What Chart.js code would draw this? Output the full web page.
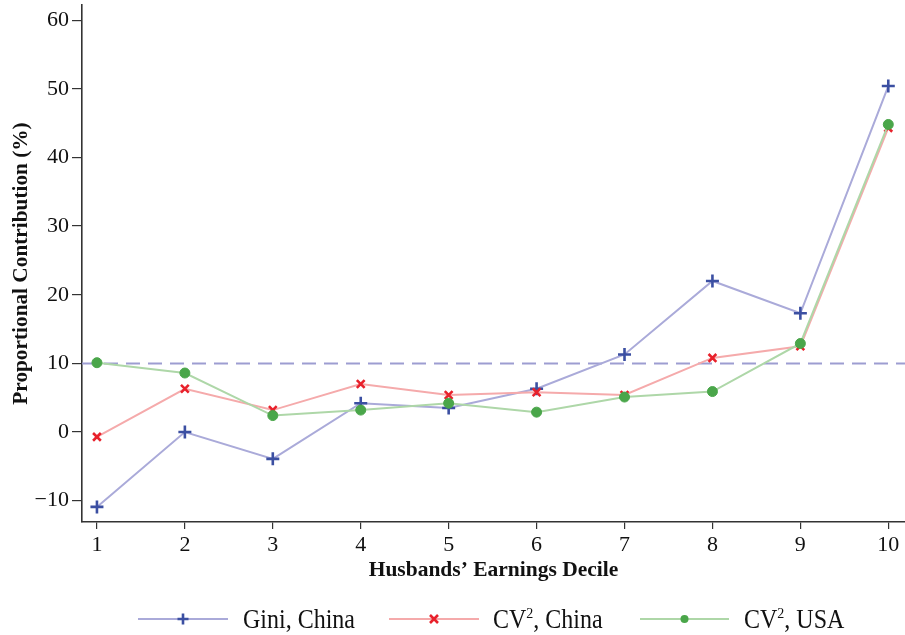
<!DOCTYPE html>
<html><head><meta charset="utf-8">
<script src="https://cdn.jsdelivr.net/npm/chart.js@4/dist/chart.umd.min.js"></script>
<style>html,body{margin:0;padding:0;background:#fff}#wrap{width:905px;height:635px}</style>
</head><body><div id="wrap"><canvas id="c" width="905" height="635"></canvas></div>
<script>
const deciles = [1,2,3,4,5,6,7,8,9,10];
const giniChina = [-10.9, 0.0, -3.9, 4.2, 3.5, 6.3, 11.3, 22.0, 17.3, 50.4];
const cv2China = [-0.7, 6.3, 3.2, 7.0, 5.4, 5.8, 5.4, 10.8, 12.5, 44.3];
const cv2USA = [10.1, 8.6, 2.4, 3.2, 4.2, 2.9, 5.1, 5.9, 12.9, 44.8];
const referenceLevel = 10;
const yTicks = [-10, 0, 10, 20, 30, 40, 50, 60];
const legendLabels = ['Gini, China', 'CV\u00B2, China', 'CV\u00B2, USA'];

const xMin = 0.83, xMax = 10.19, yMin = -13.1, yMax = 62.2;
const toPts = arr => arr.map((v, i) => ({x: deciles[i], y: v}));
const serif = "'Liberation Serif', 'Times New Roman', serif";

const styles = [
  {line: '#aaaad9', mark: '#3b4fa2', ps: 'cross', r: 6.5, bw: 2.6},
  {line: '#f5aaab', mark: '#e8212b', ps: 'crossRot', r: 5.5, bw: 2.6},
  {line: '#aed7a8', mark: '#4aa64a', ps: 'circle', r: 5, bw: 1}
];
const series = [giniChina, cv2China, cv2USA];

const datasets = series.map((s, i) => ({
  label: legendLabels[i], data: toPts(s), borderColor: styles[i].line, borderWidth: 2,
  pointStyle: styles[i].ps, pointRadius: styles[i].r, pointBorderColor: styles[i].mark,
  pointBackgroundColor: styles[i].mark, pointBorderWidth: styles[i].bw, order: 3 - i, clip: false
}));
datasets.push({label: 'ref', data: [{x: xMin, y: referenceLevel}, {x: xMax, y: referenceLevel}],
  borderColor: '#9d9dd1', borderWidth: 2, borderDash: [14, 8], pointRadius: 0, order: 10});

function drawLabel(ctx, text, x, y) {
  const parts = text.split('\u00B2');
  ctx.save();
  ctx.translate(x, y);
  ctx.scale(1, 1.1);
  ctx.fillStyle = '#111'; ctx.textBaseline = 'alphabetic'; ctx.textAlign = 'left';
  let cx = 0;
  parts.forEach((p, k) => {
    ctx.font = '24px ' + serif;
    ctx.fillText(p, cx, 8);
    cx += ctx.measureText(p).width;
    if (k < parts.length - 1) {
      ctx.font = '14px ' + serif;
      ctx.fillText('2', cx, -1);
      cx += ctx.measureText('2').width;
    }
  });
  ctx.restore();
}

const legendPlugin = {
  id: 'customLegend',
  afterDraw(chart) {
    const ctx = chart.ctx;
    const y = 619;
    const items = [{x0: 138, x1: 228, tx: 243}, {x0: 389, x1: 479, tx: 493}, {x0: 640, x1: 729, tx: 744}];
    items.forEach((it, i) => {
      const st = styles[i];
      ctx.save();
      ctx.strokeStyle = st.line; ctx.lineWidth = 2;
      ctx.beginPath(); ctx.moveTo(it.x0, y); ctx.lineTo(it.x1, y); ctx.stroke();
      const cx = (it.x0 + it.x1) / 2;
      ctx.fillStyle = st.mark; ctx.strokeStyle = st.mark; ctx.lineWidth = st.bw;
      ctx.beginPath();
      if (st.ps === 'circle') { ctx.arc(cx, y, 4, 0, Math.PI * 2); ctx.fill(); }
      else if (st.ps === 'cross') { ctx.moveTo(cx - 5.5, y); ctx.lineTo(cx + 5.5, y); ctx.moveTo(cx, y - 5.5); ctx.lineTo(cx, y + 5.5); ctx.stroke(); }
      else { ctx.moveTo(cx - 4, y - 4); ctx.lineTo(cx + 4, y + 4); ctx.moveTo(cx + 4, y - 4); ctx.lineTo(cx - 4, y + 4); ctx.stroke(); }
      ctx.restore();
      drawLabel(ctx, legendLabels[i], it.tx, y);
    });
  }
};

const noPad = () => ({left: 0, top: 0, right: 0, bottom: 0});

new Chart(document.getElementById('c'), {
  type: 'line',
  data: {datasets},
  options: {
    responsive: false, animation: false, devicePixelRatio: 1,
    layout: {autoPadding: false, padding: {top: 5, right: 0, bottom: 48, left: 5}},
    plugins: {legend: {display: false}, tooltip: {enabled: false}},
    scales: {
      x: {
        type: 'linear', min: xMin, max: xMax,
        afterBuildTicks: s => { s.ticks = deciles.map(v => ({value: v})); },
        afterFit: s => { s.height = 65; s.paddingLeft = 0; s.paddingRight = 0; s.getPadding = noPad; },
        grid: {display: true, drawOnChartArea: false, drawTicks: true, tickLength: 7, color: '#333', lineWidth: 1.2},
        border: {display: true, color: '#333', width: 1.6},
        ticks: {color: '#111', font: {family: serif, size: 22}, padding: 3, maxRotation: 0, autoSkip: false},
        title: {display: true, text: 'Husbands\u2019 Earnings Decile', color: '#111', font: {family: serif, size: 21.5, weight: 'bold'}, padding: {top: 0}}
      },
      y: {
        type: 'linear', min: yMin, max: yMax,
        afterBuildTicks: s => { s.ticks = yTicks.map(v => ({value: v})); },
        afterFit: s => { s.width = 77; s.paddingTop = 0; s.paddingBottom = 0; s.getPadding = noPad; },
        grid: {display: true, drawOnChartArea: false, drawTicks: true, tickLength: 10, color: '#333', lineWidth: 1.2},
        border: {display: true, color: '#333', width: 1.6},
        ticks: {color: '#111', font: {family: serif, size: 22}, padding: 3,
          callback: v => String(v).replace('-', '\u2212')},
        title: {display: true, text: 'Proportional Contribution (%)', color: '#111', font: {family: serif, size: 21.3, weight: 'bold'}, padding: {bottom: 0}}
      }
    }
  },
  plugins: [legendPlugin]
});
</script></body></html>
